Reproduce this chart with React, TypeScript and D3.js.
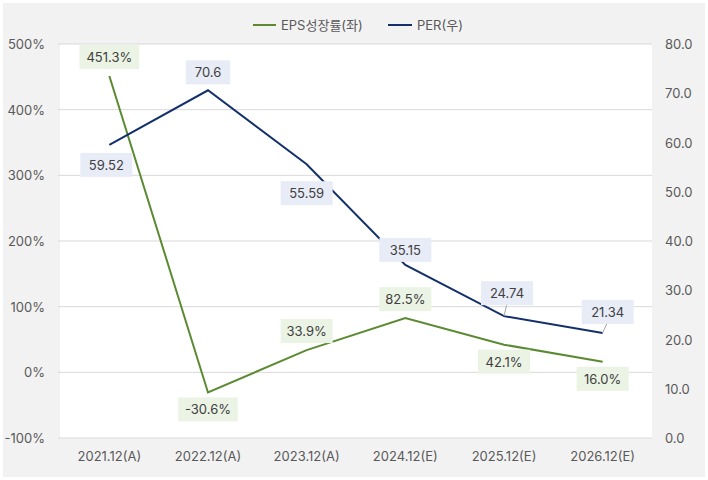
import React from "react";
import * as d3 from "d3";

const categories = ["2021.12(A)", "2022.12(A)", "2023.12(A)", "2024.12(E)", "2025.12(E)", "2026.12(E)"];
const epsGrowth = [451.3, -30.6, 33.9, 82.5, 42.1, 16.0];
const per = [59.52, 70.6, 55.59, 35.15, 24.74, 21.34];
const leftTicks = [-100, 0, 100, 200, 300, 400, 500];
const rightTicks = [0, 10, 20, 30, 40, 50, 60, 70, 80];
const epsLabelDy = [-19, 17, -19, -19, 17, 17];
const perLabelDy = [20, -18, 29, -15, -23, -21];
const perLabelDx = [-3, 0, 0, 0, 3, 5];

const W = 708, H = 480;
const M = { left: 60, right: 56, top: 44, bottom: 42 };
const FONT = "Inter, 'Noto Sans CJK KR', sans-serif";
const GREEN = "#5b8a32";
const NAVY = "#14306b";

export default function App() {
  const x = d3.scalePoint<string>().domain(categories).range([M.left, W - M.right]).padding(0.5);
  const yL = d3.scaleLinear().domain([-100, 500]).range([H - M.bottom, M.top]);
  const yR = d3.scaleLinear().domain([0, 80]).range([H - M.bottom, M.top]);

  const lineL = d3.line<number>().x((_, i) => x(categories[i])!).y((d) => yL(d));
  const lineR = d3.line<number>().x((_, i) => x(categories[i])!).y((d) => yR(d));

  const label = (key: string, text: string, cx: number, cy: number, bg: string) => {
    const w = text.length * 7.6 + 14;
    const h = 24;
    return (
      <g key={key}>
        <rect x={cx - w / 2} y={cy - h / 2} width={w} height={h} fill={bg} />
        <text x={cx} y={cy} textAnchor="middle" dominantBaseline="central" fontSize={13} fill="#404040" fontFamily={FONT}>
          {text}
        </text>
      </g>
    );
  };

  return (
    <svg width={W} height={H} style={{ position: "fixed", left: 0, top: 0 }}>
      <rect x={0} y={0} width={W} height={H} fill="#ffffff" />
      <rect x={3} y={3} width={W - 6} height={H - 6} fill="#f2f2f2" />
      <rect x={M.left} y={M.top} width={W - M.left - M.right} height={H - M.top - M.bottom} fill="#ffffff" />
      {leftTicks.map((t) => (
        <g key={"l" + t}>
          <line x1={M.left - 2} x2={W - M.right} y1={yL(t)} y2={yL(t)} stroke="#d9d9d9" strokeWidth={1} />
          <text x={45} y={yL(t)} textAnchor="end" dominantBaseline="central" fontSize={13} fill="#595959" fontFamily={FONT}>
            {t}%
          </text>
        </g>
      ))}
      {rightTicks.map((t) => (
        <text key={"r" + t} x={665} y={yR(t)} textAnchor="start" dominantBaseline="central" fontSize={13} fill="#595959" fontFamily={FONT}>
          {t.toFixed(1)}
        </text>
      ))}
      {categories.map((c) => (
        <text key={c} x={x(c)!} y={456} textAnchor="middle" dominantBaseline="central" fontSize={13} fill="#595959" fontFamily={FONT}>
          {c}
        </text>
      ))}
      <path d={lineL(epsGrowth)!} fill="none" stroke={GREEN} strokeWidth={2} />
      <path d={lineR(per)!} fill="none" stroke={NAVY} strokeWidth={2} />
      {per.map((v, i) => {
        const px = x(categories[i])!;
        const py = yR(v);
        if (i >= 4) {
          const ly = py + perLabelDy[i];
          return (
            <line key={"ll" + i} x1={px} y1={py} x2={px + perLabelDx[i]} y2={ly + 10} stroke="#a6a6a6" strokeWidth={1} />
          );
        }
        return null;
      })}
      {epsGrowth.map((v, i) => {
        const px = x(categories[i])!;
        const py = yL(v);
        return label("e" + i, v.toFixed(1) + "%", px, py + epsLabelDy[i], "#ebf3e5");
      })}
      {per.map((v, i) => {
        const px = x(categories[i])! + perLabelDx[i];
        const py = yR(v);
        return label("p" + i, String(v), px, py + perLabelDy[i], "#e8ecf7");
      })}
      <g fontFamily={FONT} fontSize={13} fill="#595959">
        <line x1={253} x2={276} y1={25} y2={25} stroke={GREEN} strokeWidth={2} />
        <text x={281} y={25} dominantBaseline="central">EPS성장률(좌)</text>
        <line x1={388} x2={412} y1={25} y2={25} stroke={NAVY} strokeWidth={2} />
        <text x={417} y={25} dominantBaseline="central">PER(우)</text>
      </g>
    </svg>
  );
}
